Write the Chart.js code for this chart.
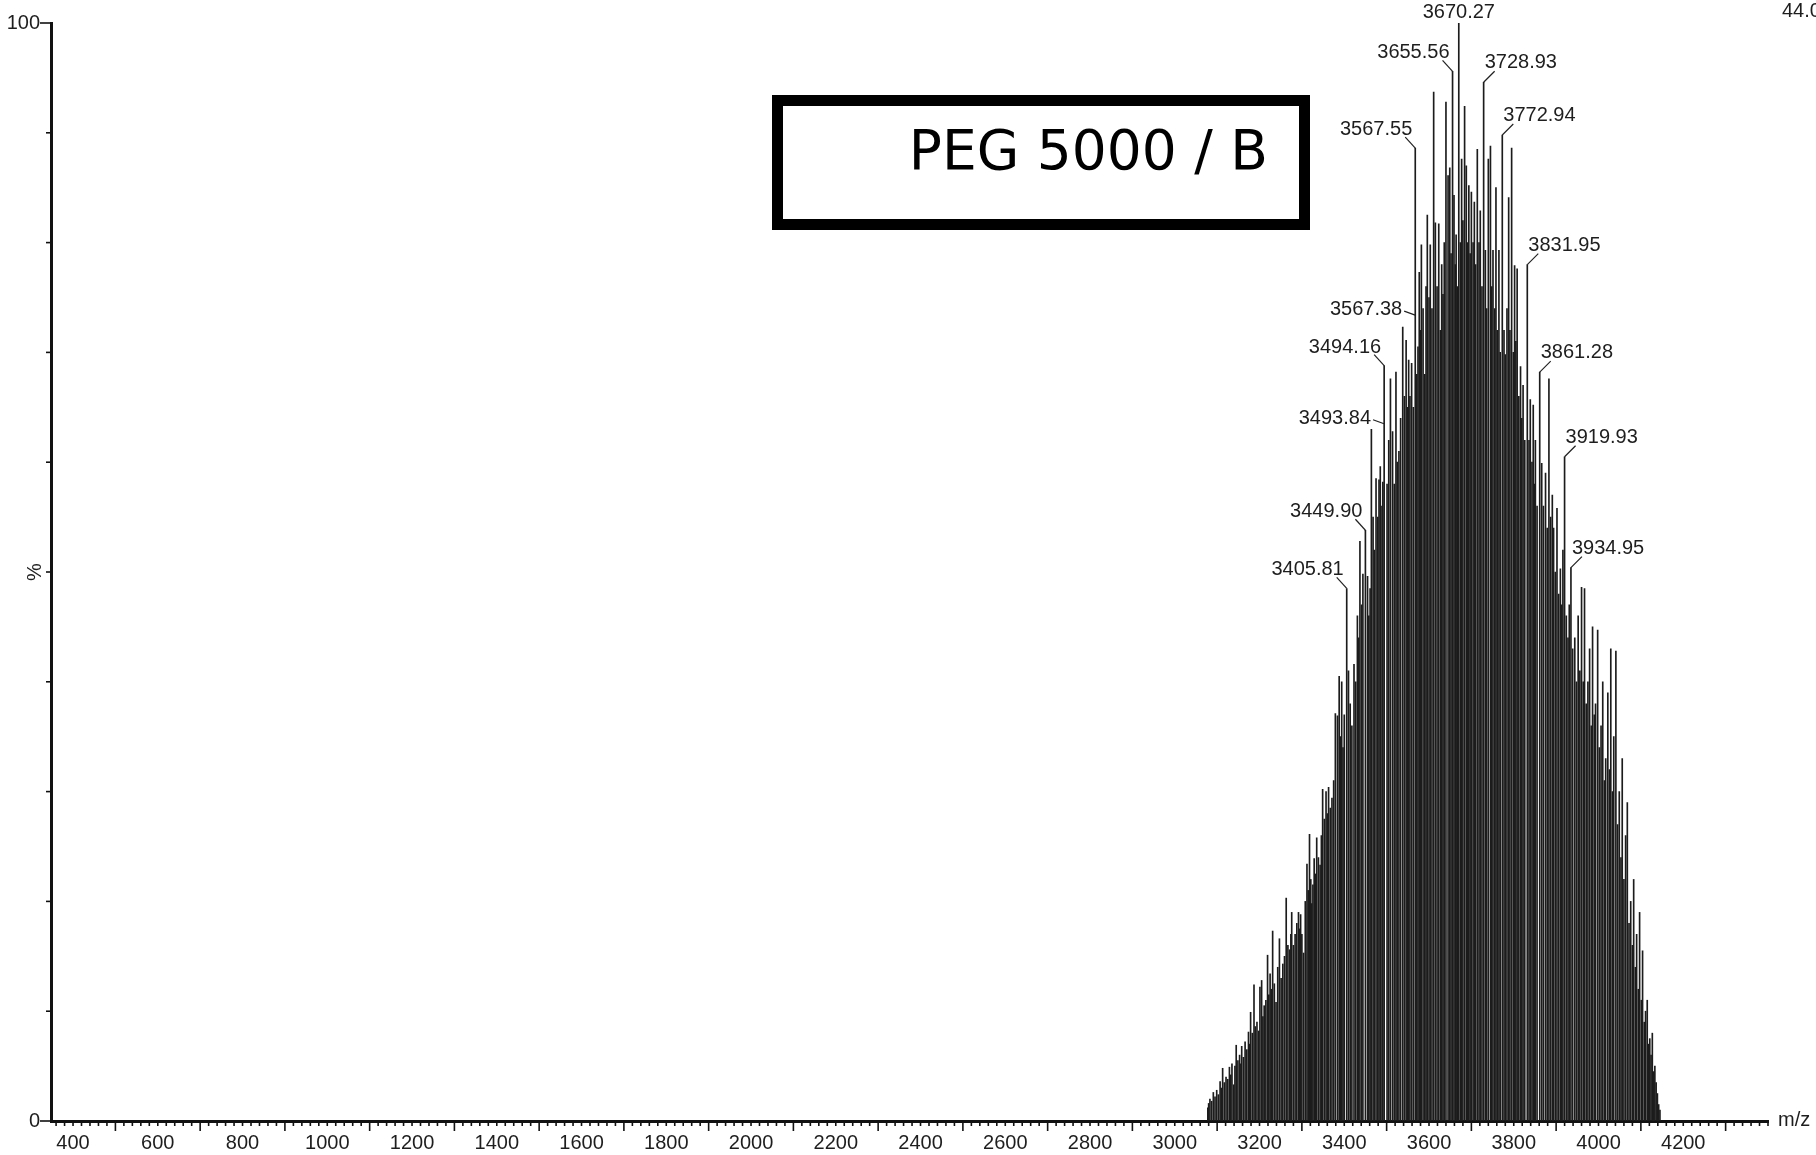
<!DOCTYPE html>
<html>
<head>
<meta charset="utf-8">
<script src="https://cdn.jsdelivr.net/npm/chart.js@4"></script>
<style>
  html, body { margin: 0; padding: 0; background: #fff; }
  #wrap { width: 1816px; height: 1155px; position: relative; }
</style>
</head>
<body>
<div id="wrap"><canvas id="spec" width="1816" height="1155"></canvas></div>
<script>
// m/z of each stick
const peakMz = [
  3078, 3080, 3083, 3087, 3091, 3095, 3099, 3103, 3107, 3110,
  3113, 3117, 3121, 3125, 3129, 3132, 3135, 3139, 3142, 3145,
  3149, 3153, 3156, 3158, 3162, 3166, 3170, 3174, 3177, 3179,
  3183, 3187, 3190, 3194, 3198, 3201, 3205, 3208, 3211, 3215,
  3219, 3222, 3225, 3228, 3231, 3235, 3239, 3243, 3247, 3251,
  3255, 3259, 3263, 3267, 3271, 3274, 3276, 3280, 3284, 3288,
  3292, 3295, 3297, 3300, 3304, 3308, 3312, 3315, 3318, 3321,
  3323, 3326, 3329, 3332, 3335, 3339, 3343, 3346, 3349, 3353,
  3357, 3360, 3363, 3367, 3371, 3375, 3379, 3384, 3388, 3391,
  3394, 3397, 3400, 3405.81, 3410, 3414, 3418, 3423, 3427, 3431,
  3434, 3437, 3441, 3444, 3449.90, 3455, 3458, 3461, 3464, 3468,
  3471, 3475, 3479, 3482, 3485, 3489, 3491, 3494.16, 3501, 3505,
  3509, 3514, 3518, 3522, 3525, 3529, 3533, 3538, 3542, 3546,
  3549, 3552, 3555, 3559, 3563, 3567.55, 3571, 3574, 3577, 3580,
  3582, 3586, 3590, 3593, 3596, 3600, 3603, 3607, 3611, 3615,
  3619, 3623, 3627, 3630, 3633, 3636, 3640, 3645, 3649, 3652,
  3655.56, 3659, 3662, 3664, 3667, 3670.27, 3674, 3677, 3680, 3684,
  3688, 3691, 3694, 3697, 3700, 3704, 3707, 3710, 3714, 3718,
  3721, 3725, 3728.93, 3733, 3736, 3740, 3745, 3748, 3751, 3755,
  3758, 3761, 3765, 3768, 3772.94, 3777, 3780, 3784, 3788, 3791,
  3795, 3799, 3802, 3805, 3808, 3812, 3816, 3819, 3822, 3826,
  3831.95, 3836, 3839, 3843, 3846, 3849, 3851, 3855, 3861.28, 3866,
  3870, 3875, 3879, 3883, 3887, 3891, 3894, 3898, 3902, 3906,
  3910, 3913, 3916, 3919.93, 3924, 3928, 3931, 3934.95, 3939, 3944,
  3948, 3952, 3956, 3960, 3964, 3967, 3971, 3975, 3979, 3983,
  3986, 3990, 3993, 3998, 4002, 4006, 4010, 4014, 4017, 4022,
  4026, 4029, 4033, 4036, 4041, 4045, 4049, 4053, 4056, 4060,
  4064, 4068, 4072, 4076, 4080, 4083, 4087, 4090, 4094, 4097,
  4101, 4104, 4108, 4111, 4115, 4118, 4121, 4124, 4127, 4130,
  4133, 4136, 4139, 4142, 4145
];

// relative intensity (%) of each stick, same order
const peakInt = [
  1.2, 1.6, 2.0, 1.8, 2.6, 2.2, 2.8, 2.4, 3.6, 3.0,
  4.8, 3.5, 4.0, 3.8, 4.9, 4.2, 5.2, 3.3, 5.0, 6.9,
  5.5, 6.0, 5.2, 6.8, 5.8, 7.2, 6.5, 8.1, 7.0, 9.9,
  8.0, 12.4, 8.6, 9.0, 8.2, 12.2, 12.8, 9.5, 10.5, 11.0,
  15.1, 11.5, 13.4, 12.0, 17.3, 12.5, 10.8, 14.0, 16.6, 13.0,
  14.3, 15.0, 20.3, 16.0, 15.6, 17.0, 19.0, 16.0, 17.0, 18.0,
  19.0, 17.5, 18.8, 17.0, 15.3, 20.0, 23.4, 21.0, 26.1, 22.0,
  19.8, 21.5, 23.9, 22.5, 25.8, 24.0, 23.3, 26.0, 30.2, 27.5,
  30.0, 28.0, 30.4, 28.5, 29.4, 31.0, 37.1, 36.9, 40.5, 35.0,
  40.0, 34.0, 37.0, 48.5, 41.0, 38.0, 36.0, 41.6, 40.0, 46.0,
  44.0, 52.8, 47.0, 49.8, 53.8, 49.6, 46.0, 48.5, 63.0, 55.0,
  52.0, 58.5, 55.0, 58.4, 59.6, 56.0, 58.2, 68.8, 58.0, 62.0,
  67.6, 62.8, 58.0, 68.2, 60.0, 61.0, 64.0, 72.3, 66.0, 71.1,
  65.0, 69.3, 66.0, 69.0, 65.0, 88.6, 68.0, 70.5, 77.3, 72.0,
  79.8, 74.0, 68.0, 76.0, 82.5, 75.0, 79.8, 74.0, 93.7, 81.8,
  76.0, 81.7, 72.0, 78.0, 75.3, 80.0, 92.8, 86.1, 86.8, 79.0,
  95.6, 84.3, 78.0, 80.7, 76.0, 100, 80.0, 87.6, 82.0, 92.4,
  87.0, 80.0, 85.2, 79.0, 84.6, 80.0, 83.7, 78.0, 88.5, 80.0,
  82.9, 76.0, 94.6, 79.3, 74.0, 87.6, 88.8, 76.0, 79.3, 74.0,
  85.0, 72.0, 79.3, 70.0, 89.8, 72.0, 69.8, 74.0, 84.1, 72.0,
  88.6, 70.0, 77.9, 71.0, 77.6, 66.0, 68.7, 64.0, 67.0, 62.0,
  78.0, 62.0, 65.7, 60.0, 65.2, 58.0, 62.0, 56.0, 68.2, 59.9,
  56.0, 59.0, 54.0, 67.6, 55.0, 57.0, 54.0, 50.0, 55.8, 48.0,
  50.3, 47.0, 52.0, 60.5, 46.0, 44.0, 47.0, 50.4, 43.0, 44.0,
  40.0, 46.0, 41.0, 48.6, 40.0, 48.5, 38.0, 40.0, 43.0, 36.0,
  45.0, 37.0, 38.0, 44.7, 34.0, 36.0, 40.0, 31.0, 33.0, 39.0,
  32.0, 43.0, 30.0, 35.0, 42.8, 27.0, 30.0, 24.0, 33.0, 22.0,
  26.0, 29.0, 18.0, 20.0, 16.0, 22.0, 14.0, 17.0, 12.0, 19.0,
  11.0, 15.5, 9.0, 10.0, 11.0, 7.0, 7.5, 6.0, 8.0, 4.5,
  5.0, 3.5, 2.5, 1.5, 1.0
];

// labelled peaks: m/z, height of the leader end (%), which side the text sits
const labelMz = [3670.27, 3655.56, 3728.93, 3567.55, 3772.94, 3831.95, 3567.38,
                 3494.16, 3861.28, 3493.84, 3919.93, 3449.90, 3934.95, 3405.81];
const labelInt = [100, 95.6, 94.6, 88.6, 89.8, 78.0, 73.4,
                  68.8, 68.2, 63.5, 60.5, 53.8, 50.4, 48.5];
const labelSide = ['C', 'L', 'R', 'L', 'R', 'R', 'LH',
                   'L', 'R', 'LH', 'R', 'L', 'R', 'L'];

const xTickLabels = [400, 600, 800, 1000, 1200, 1400, 1600, 1800, 2000, 2200,
                     2400, 2600, 2800, 3000, 3200, 3400, 3600, 3800, 4000, 4200];
const yTickLabels = [0, 100];

const title = 'PEG 5000 / B';
const intensityTag = '44.0';

const FONT = "'Liberation Sans', Arial, sans-serif";
const INK = '#1e1e1e';

function line(ctx, x1, y1, x2, y2) {
  ctx.beginPath();
  ctx.moveTo(x1, y1);
  ctx.lineTo(x2, y2);
  ctx.stroke();
}

const decor = {
  id: 'decor',
  afterDraw(chart) {
    const { ctx, chartArea: a, scales: { x, y } } = chart;
    ctx.save();
    ctx.strokeStyle = '#111';
    ctx.lineWidth = 1.6;

    // x ticks: every 20, longer on odd hundreds
    for (let v = 360; v <= 4400; v += 20) {
      const px = x.getPixelForValue(v);
      const len = (v % 200 === 100) ? 10 : 5;
      line(ctx, px, a.bottom, px, a.bottom + len);
    }
    // y ticks every 10 %
    for (let v = 0; v <= 100; v += 10) {
      const py = y.getPixelForValue(v);
      const len = (v === 0 || v === 100) ? 11 : 5;
      line(ctx, a.left - len, py, a.left, py);
    }

    ctx.fillStyle = INK;
    ctx.font = '20px ' + FONT;

    // axis titles
    ctx.textAlign = 'left';
    ctx.textBaseline = 'middle';
    ctx.fillText('m/z', a.right + 10, a.bottom - 1);
    ctx.save();
    ctx.translate(35, y.getPixelForValue(50));
    ctx.rotate(-Math.PI / 2);
    ctx.textAlign = 'center';
    ctx.fillText('%', 0, 0);
    ctx.restore();

    ctx.textBaseline = 'alphabetic';
    ctx.fillText(intensityTag, a.right + 14, 17);

    // peak labels with leaders
    ctx.strokeStyle = '#222';
    ctx.lineWidth = 1.2;
    labelMz.forEach((m, i) => {
      const px = x.getPixelForValue(m);
      const py = y.getPixelForValue(labelInt[i]);
      const txt = m.toFixed(2);
      const side = labelSide[i];
      if (side === 'C') {
        ctx.textAlign = 'center';
        ctx.fillText(txt, px, py - 5);
      } else if (side === 'L') {
        line(ctx, px - 10, py - 11, px, py);
        ctx.textAlign = 'right';
        ctx.fillText(txt, px - 3, py - 13);
      } else if (side === 'LH') {
        line(ctx, px - 11, py - 4, px, py);
        ctx.textAlign = 'right';
        ctx.fillText(txt, px - 13, py);
      } else {
        line(ctx, px + 11, py - 11, px, py);
        ctx.textAlign = 'left';
        ctx.fillText(txt, px + 1, py - 14);
      }
    });

    // boxed sample name
    ctx.strokeStyle = '#000';
    ctx.lineWidth = 11;
    ctx.strokeRect(777.5, 100.5, 527, 124);
    ctx.fillStyle = '#000';
    ctx.font = "55px 'DejaVu Sans', sans-serif";
    ctx.textAlign = 'right';
    ctx.fillText(title, 1268, 169);

    ctx.restore();
  }
};

new Chart(document.getElementById('spec'), {
  type: 'bar',
  data: {
    datasets: [{
      data: peakMz.map((m, i) => ({ x: m, y: peakInt[i] })),
      backgroundColor: '#1c1c1c',
      borderWidth: 0,
      barThickness: 1.0,
      grouped: false
    }]
  },
  options: {
    responsive: false,
    animation: false,
    devicePixelRatio: 1,
    layout: { padding: { top: 20, right: 48, left: 0, bottom: 0 } },
    plugins: { legend: { display: false }, tooltip: { enabled: false } },
    scales: {
      x: {
        type: 'linear',
        min: 348,
        max: 4400,
        offset: false,
        grid: { display: false, drawTicks: false, offset: false },
        border: { display: true, color: '#111', width: 3 },
        afterBuildTicks: (s) => { s.ticks = xTickLabels.map(v => ({ value: v })); },
        afterFit: (s) => { s.height = 34; },
        ticks: {
          autoSkip: false,
          maxRotation: 0,
          padding: 10,
          color: INK,
          font: { family: FONT, size: 20 },
          callback: (v) => String(v)
        }
      },
      y: {
        type: 'linear',
        min: 0,
        max: 100,
        grid: { display: false, drawTicks: false },
        border: { display: true, color: '#111', width: 3 },
        afterBuildTicks: (s) => { s.ticks = yTickLabels.map(v => ({ value: v })); },
        afterFit: (s) => { s.width = 51; },
        ticks: {
          padding: 11,
          color: INK,
          font: { family: FONT, size: 20 },
          callback: (v) => String(v)
        }
      }
    }
  },
  plugins: [decor]
});
</script>
</body>
</html>
